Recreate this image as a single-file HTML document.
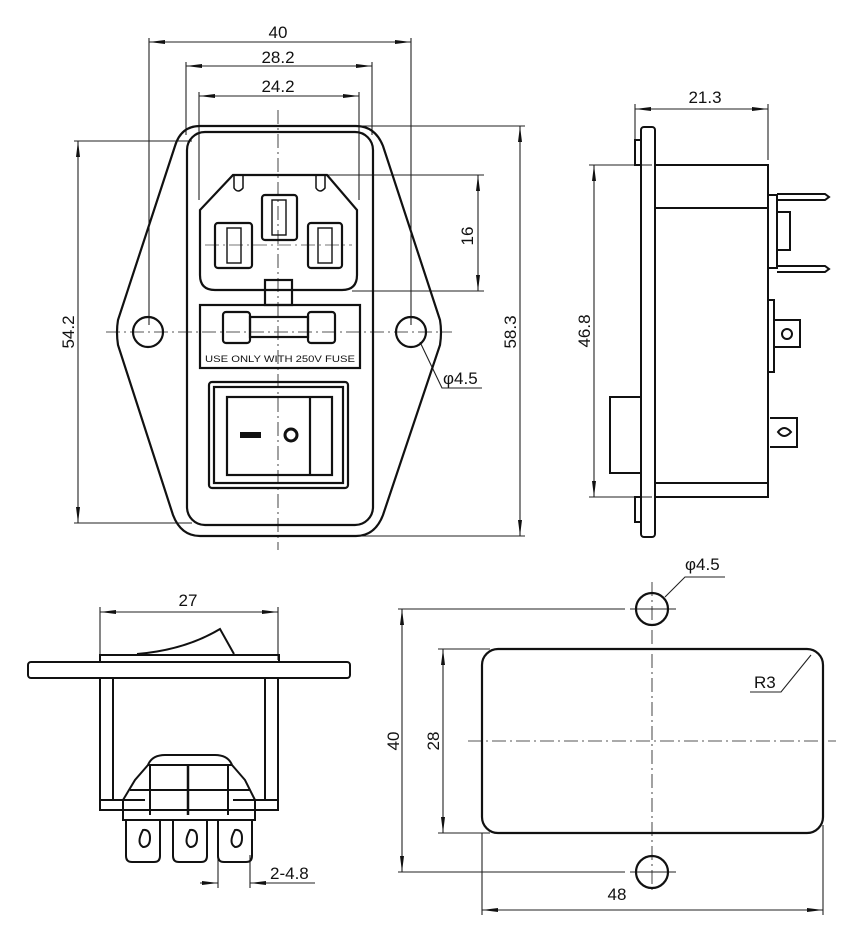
<!DOCTYPE html>
<html><head><meta charset="utf-8"><style>
html,body{margin:0;padding:0;background:#fff}
svg{display:block}
text{font-family:"Liberation Sans",Arial,sans-serif;fill:#111}
</style></head><body>
<svg width="852" height="947" viewBox="0 0 852 947" xmlns="http://www.w3.org/2000/svg">
<defs>
<marker id="a" markerWidth="16" markerHeight="6" refX="16" refY="3" orient="auto" markerUnits="userSpaceOnUse"><path d="M0,1 L16,3 L0,5 z" fill="#111"/></marker>
<marker id="b" markerWidth="16" markerHeight="6" refX="0" refY="3" orient="auto" markerUnits="userSpaceOnUse"><path d="M16,1 L0,3 L16,5 z" fill="#111"/></marker>
</defs>
<g fill="none" stroke="#222" stroke-width="1.1">
<line x1="149" y1="38" x2="149" y2="325"/><line x1="411" y1="38" x2="411" y2="325"/>
<line x1="149" y1="42" x2="411" y2="42" marker-start="url(#b)" marker-end="url(#a)"/>
<line x1="186" y1="62" x2="186" y2="135"/><line x1="372" y1="62" x2="372" y2="135"/>
<line x1="186" y1="66" x2="372" y2="66" marker-start="url(#b)" marker-end="url(#a)"/>
<line x1="199" y1="92" x2="199" y2="200"/><line x1="359" y1="92" x2="359" y2="200"/>
<line x1="199" y1="96" x2="359" y2="96" marker-start="url(#b)" marker-end="url(#a)"/>
<line x1="74" y1="141" x2="192" y2="141"/><line x1="74" y1="523" x2="192" y2="523"/>
<line x1="78" y1="141" x2="78" y2="523" marker-start="url(#b)" marker-end="url(#a)"/>
<line x1="360" y1="126" x2="525" y2="126"/><line x1="360" y1="536" x2="525" y2="536"/>
<line x1="520" y1="126" x2="520" y2="536" marker-start="url(#b)" marker-end="url(#a)"/>
<line x1="320" y1="175" x2="484" y2="175"/><line x1="352" y1="291" x2="484" y2="291"/>
<line x1="478" y1="175" x2="478" y2="291" marker-start="url(#b)" marker-end="url(#a)"/>
<polyline points="420,342 442,388 482,388"/>
<line x1="278" y1="110" x2="278" y2="550" stroke-dasharray="14,4,2,4" stroke="#555"/>
<line x1="106" y1="332" x2="452" y2="332" stroke-dasharray="14,4,2,4" stroke="#555"/>
<line x1="205" y1="245" x2="352" y2="245" stroke-dasharray="14,4,2,4" stroke="#777"/>
</g>
<g fill="none" stroke="#111" stroke-width="2.2">
<path d="M200,126 L356,126 Q375,126 383,146 L440,320 Q442,332 440,345 L383,515 Q375,536 356,536 L200,536 Q181,536 173,515 L118,345 Q116,332 118,320 L175,146 Q181,126 200,126 Z"/>
<rect x="187" y="132" width="186" height="393" rx="18"/>
<circle cx="148" cy="332" r="15"/><circle cx="411" cy="332" r="15"/>
<path d="M233,175 L327,175 L357,210 L357,275 Q357,290 342,290 L215,290 Q200,290 200,275 L200,210 Z"/>
<path d="M234,175 L234,188 Q238,194 243,188 L243,175 M316,175 L316,188 Q320,194 325,188 L325,175" stroke-width="1.5"/>
<rect x="262" y="195" width="35" height="45" rx="3"/>
<rect x="215" y="223" width="37" height="45" rx="3"/>
<rect x="308" y="223" width="34" height="45" rx="3"/>
<rect x="272" y="200" width="14" height="35" stroke-width="1.4"/>
<rect x="227" y="228" width="14" height="35" stroke-width="1.4"/>
<rect x="318" y="228" width="14" height="35" stroke-width="1.4"/>
<rect x="265" y="280" width="27" height="25"/>
<rect x="200" y="305" width="160" height="63"/>
<rect x="223" y="312" width="27" height="31" rx="3"/>
<rect x="308" y="312" width="27" height="31" rx="3"/>
<rect x="250" y="317" width="58" height="20"/>
<rect x="209" y="382" width="139" height="106" rx="3"/>
<rect x="214" y="387" width="129" height="96"/>
<rect x="227" y="397" width="105" height="78"/>
<line x1="310" y1="397" x2="310" y2="475"/>
<circle cx="291" cy="435" r="6" stroke-width="3"/>
</g>
<rect x="240" y="432" width="21" height="6" fill="#111"/>
<text x="278" y="38" font-size="17" text-anchor="middle">40</text>
<text x="278" y="63" font-size="17" text-anchor="middle">28.2</text>
<text x="278" y="92" font-size="17" text-anchor="middle">24.2</text>
<text x="280" y="362" font-size="9.5" text-anchor="middle" textLength="150" lengthAdjust="spacingAndGlyphs">USE ONLY WITH 250V FUSE</text>
<text x="443" y="384" font-size="17">φ4.5</text>
<text transform="translate(74,332) rotate(-90)" font-size="17" text-anchor="middle">54.2</text>
<text transform="translate(516,332) rotate(-90)" font-size="17" text-anchor="middle">58.3</text>
<text transform="translate(473,236) rotate(-90)" font-size="17" text-anchor="middle">16</text>

<g fill="none" stroke="#222" stroke-width="1.1">
<line x1="635" y1="104" x2="635" y2="165"/><line x1="768" y1="104" x2="768" y2="160"/>
<line x1="635" y1="109" x2="768" y2="109" marker-start="url(#b)" marker-end="url(#a)"/>
<line x1="589" y1="165" x2="652" y2="165"/><line x1="589" y1="497" x2="652" y2="497"/>
<line x1="594" y1="165" x2="594" y2="497" marker-start="url(#b)" marker-end="url(#a)"/>
</g>
<g fill="none" stroke="#111" stroke-width="2">
<rect x="641" y="127" width="14" height="410" rx="3"/>
<rect x="635" y="140" width="6" height="25"/><rect x="635" y="497" width="6" height="25"/>
<path d="M655,165 L768,165 L768,497 L655,497"/>
<line x1="655" y1="208" x2="768" y2="208"/><line x1="655" y1="483" x2="768" y2="483"/>
<rect x="610" y="397" width="31" height="76"/>
<path d="M768,195 L777,195 L777,268 L768,268"/>
<path d="M777,212 L790,212 L790,250 L777,250"/>
<path d="M777,194 L825,194 L829,197 L825,200 L777,200"/>
<path d="M777,266 L825,266 L829,269 L825,272 L777,272"/>
<rect x="768" y="300" width="6" height="72"/>
<path d="M774,320 L800,320 L800,347 L774,347"/>
<circle cx="787" cy="334" r="5"/>
<path d="M770,418 L797,418 L797,447 L770,447"/>
<path d="M778,432 Q784,424 791,432 Q784,440 778,432 Z"/>
</g>
<text x="705" y="103" font-size="17" text-anchor="middle">21.3</text>
<text transform="translate(590,331) rotate(-90)" font-size="17" text-anchor="middle">46.8</text>

<g fill="none" stroke="#222" stroke-width="1.1">
<line x1="100" y1="607" x2="100" y2="660"/><line x1="278" y1="607" x2="278" y2="660"/>
<line x1="100" y1="612" x2="278" y2="612" marker-start="url(#b)" marker-end="url(#a)"/>
<line x1="218" y1="855" x2="218" y2="888"/><line x1="250" y1="855" x2="250" y2="888"/>
<line x1="200" y1="883" x2="218" y2="883" marker-end="url(#a)"/>
<line x1="250" y1="883" x2="315" y2="883" marker-start="url(#b)"/>
</g>
<g fill="none" stroke="#111" stroke-width="2">
<path d="M137,654 Q185,650 220,629 L234,654"/>
<rect x="100" y="655" width="179" height="7"/>
<rect x="28" y="662" width="322" height="16" rx="3"/>
<path d="M100,678 L100,810 L278,810 L278,678"/>
<line x1="113" y1="678" x2="113" y2="800"/><line x1="265" y1="678" x2="265" y2="800"/>
<line x1="100" y1="800" x2="145" y2="800"/><line x1="233" y1="800" x2="278" y2="800"/>
<path d="M123,820 L123,800 L135,780 L148,765 Q152,755 165,755 L215,755 Q228,755 232,765 L245,780 L255,800 L255,820 Z"/>
<line x1="148" y1="765" x2="232" y2="765"/>
<line x1="130" y1="790" x2="250" y2="790"/>
<line x1="150" y1="765" x2="150" y2="815"/><line x1="188" y1="765" x2="188" y2="815" stroke-width="2.5"/><line x1="228" y1="765" x2="228" y2="815"/>
<path d="M126,820 L126,856 Q126,862 132,862 L154,862 Q160,862 160,856 L160,820"/>
<path d="M173,820 L173,856 Q173,862 179,862 L201,862 Q207,862 207,856 L207,820"/>
<path d="M218,820 L218,856 Q218,862 224,862 L246,862 Q252,862 252,856 L252,820"/>
<path d="M143,830 Q136,843 143,847 Q150,847 150,838 Q150,829 143,830 Z"/>
<path d="M190,830 Q183,843 190,847 Q197,847 197,838 Q197,829 190,830 Z"/>
<path d="M235,830 Q228,843 235,847 Q242,847 242,838 Q242,829 235,830 Z"/>
</g>
<text x="188" y="606" font-size="17" text-anchor="middle">27</text>
<text x="270" y="879" font-size="17">2-4.8</text>

<g fill="none" stroke="#222" stroke-width="1.1">
<line x1="398" y1="609" x2="625" y2="609"/><line x1="398" y1="872" x2="625" y2="872"/>
<line x1="402" y1="609" x2="402" y2="872" marker-start="url(#b)" marker-end="url(#a)"/>
<line x1="438" y1="649" x2="490" y2="649"/><line x1="438" y1="833" x2="490" y2="833"/>
<line x1="443" y1="649" x2="443" y2="833" marker-start="url(#b)" marker-end="url(#a)"/>
<line x1="482" y1="833" x2="482" y2="915"/><line x1="823" y1="825" x2="823" y2="915"/>
<line x1="482" y1="910" x2="823" y2="910" marker-start="url(#b)" marker-end="url(#a)"/>
<polyline points="665,597 685,577 725,577"/>
<polyline points="811,655 781,692 750,692"/>
<line x1="652" y1="582" x2="652" y2="892" stroke-dasharray="14,4,2,4" stroke="#555"/>
<line x1="468" y1="741" x2="836" y2="741" stroke-dasharray="14,4,2,4" stroke="#555"/>
<line x1="630" y1="609" x2="676" y2="609"/><line x1="630" y1="872" x2="676" y2="872"/>
</g>
<g fill="none" stroke="#111" stroke-width="2.2">
<ellipse cx="652" cy="609" rx="16" ry="16"/>
<ellipse cx="652" cy="872" rx="16" ry="16"/>
<rect x="482" y="649" width="341" height="184" rx="16"/>
</g>
<text x="685" y="570" font-size="17">φ4.5</text>
<text x="754" y="688" font-size="17">R3</text>
<text x="617" y="900" font-size="17" text-anchor="middle">48</text>
<text transform="translate(399,741) rotate(-90)" font-size="17" text-anchor="middle">40</text>
<text transform="translate(439,741) rotate(-90)" font-size="17" text-anchor="middle">28</text>
</svg>
</body></html>
